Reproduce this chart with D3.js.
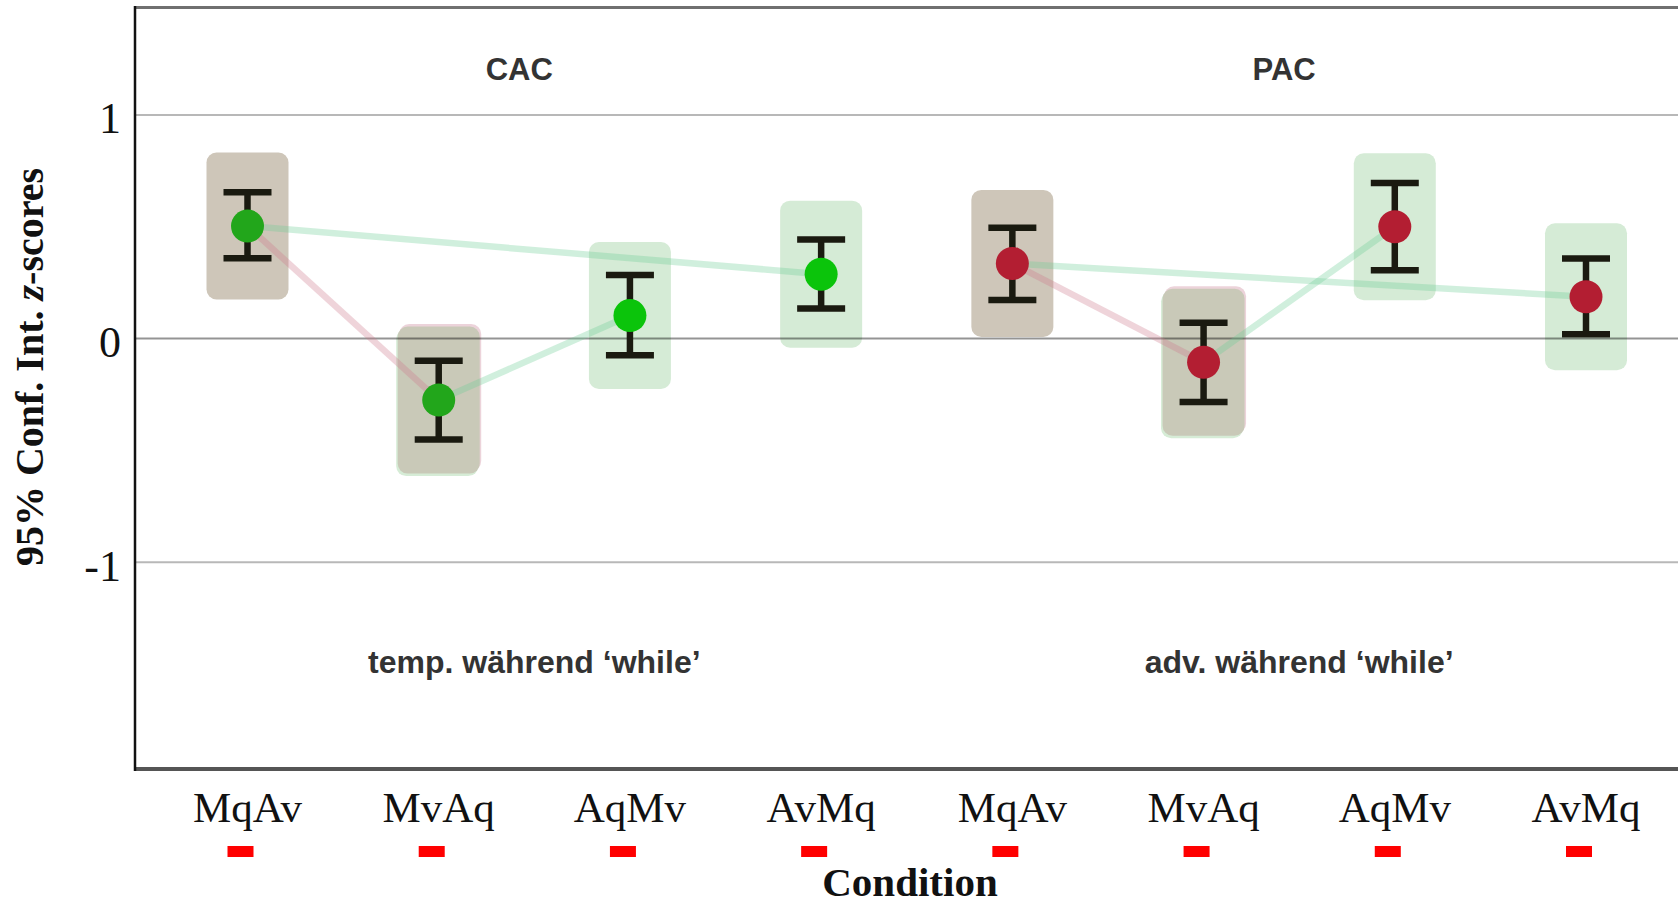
<!DOCTYPE html>
<html>
<head>
<meta charset="utf-8">
<script src="https://cdn.jsdelivr.net/npm/d3@7"></script>
<style>
  html, body { margin: 0; padding: 0; background: #fff; overflow: hidden; }
  svg { display: block; }
</style>
</head>
<body>
<svg id="chart" width="1678" height="906"></svg>
<script>
// Conditions along the x axis (two blocks of four)
const conditions = ["MqAv", "MvAq", "AqMv", "AvMq", "MqAv", "MvAq", "AqMv", "AvMq"];
const blocks = ["CAC", "CAC", "CAC", "CAC", "PAC", "PAC", "PAC", "PAC"];
const blockTitles = ["CAC", "PAC"];
const blockNotes = ["temp. während ‘while’", "adv. während ‘while’"];

// Mean z-scores and 95% confidence interval bounds
const means   = [0.503, -0.275, 0.103, 0.288, 0.336, -0.106, 0.500, 0.187];
const ciLower = [0.359, -0.451, -0.074, 0.135, 0.172, -0.283, 0.306, 0.019];
const ciUpper = [0.654, -0.099, 0.284, 0.443, 0.495, 0.071, 0.696, 0.358];

// Marker colours and the highlight box behind each marker
const pointColors = ["#22a61b", "#22a61b", "#0bc40b", "#0bc40b", "#b31e32", "#b31e32", "#b31e32", "#b31e32"];
const highlights  = ["tan", "mixed", "green", "green", "tan", "mixed", "green", "green"];

// Connecting strokes between conditions (indices into the arrays above)
const linkFrom  = [0, 1, 0, 4, 5, 4];
const linkTo    = [1, 2, 3, 5, 6, 7];
const linkKinds = ["pink", "green", "green", "pink", "green", "green"];

const yTicks = [-1, 0, 1];

// ---- layout ----
const W = 1678, H = 906;
const frame = { left: 135, right: 1710, top: 7.5, bottom: 769 };
const svg = d3.select("#chart");

const x = d3.scalePoint().domain(d3.range(conditions.length)).range([247.5, 1586]);
const y = d3.scaleLinear().domain([-1.924, 1.48]).range([frame.bottom, frame.top]);

const boxHalf = 0.3285;  // half height of highlight boxes, in z units
const boxW = 82;
const boxFill = { tan: "#cec6b9", green: "#d5ebd6", mixed: "#c9c9b8" };

// highlight boxes
const boxes = svg.append("g");
conditions.forEach((c, i) => {
  const bx = x(i) - boxW / 2;
  const by = y(means[i] + boxHalf);
  const bh = y(means[i] - boxHalf) - by;
  if (highlights[i] === "mixed") {
    boxes.append("rect").attr("x", bx - 1.5).attr("y", by + 2.5).attr("width", boxW).attr("height", bh)
      .attr("rx", 10).attr("fill", "#d6ecd6");
    boxes.append("rect").attr("x", bx + 1.5).attr("y", by - 2.5).attr("width", boxW).attr("height", bh)
      .attr("rx", 10).attr("fill", "#ecd3da");
  }
  boxes.append("rect").attr("x", bx).attr("y", by).attr("width", boxW).attr("height", bh)
    .attr("rx", 10).attr("fill", boxFill[highlights[i]]);
});

// gridlines
const grid = svg.append("g");
yTicks.forEach(t => {
  grid.append("line")
    .attr("x1", frame.left).attr("x2", W)
    .attr("y1", y(t)).attr("y2", y(t))
    .attr("stroke", "#000").attr("stroke-opacity", t === 0 ? 0.42 : 0.28)
    .attr("stroke-width", 2);
});

// frame: top border, left axis, bottom axis
svg.append("line").attr("x1", frame.left).attr("x2", W).attr("y1", frame.top).attr("y2", frame.top)
  .attr("stroke", "#707070").attr("stroke-width", 3);
svg.append("line").attr("x1", frame.left).attr("x2", W).attr("y1", frame.bottom).attr("y2", frame.bottom)
  .attr("stroke", "#555").attr("stroke-width", 4);
svg.append("line").attr("x1", frame.left).attr("x2", frame.left).attr("y1", frame.top - 1.5).attr("y2", frame.bottom + 2)
  .attr("stroke", "#111").attr("stroke-width", 2.5);

// connecting strokes
const linkColor = { pink: "rgba(205,120,140,0.32)", green: "rgba(110,205,150,0.32)" };
const links = svg.append("g");
linkFrom.forEach((f, k) => {
  const t = linkTo[k];
  links.append("line")
    .attr("x1", x(f)).attr("y1", y(means[f]))
    .attr("x2", x(t)).attr("y2", y(means[t]))
    .attr("stroke", linkColor[linkKinds[k]]).attr("stroke-width", 6.5);
});

// error bars
const bars = svg.append("g").attr("stroke", "#1a1a10").attr("stroke-width", 6.5);
conditions.forEach((c, i) => {
  const cx = x(i);
  bars.append("line").attr("x1", cx).attr("x2", cx).attr("y1", y(ciUpper[i])).attr("y2", y(ciLower[i]));
  bars.append("line").attr("x1", cx - 24).attr("x2", cx + 24).attr("y1", y(ciUpper[i])).attr("y2", y(ciUpper[i]));
  bars.append("line").attr("x1", cx - 24).attr("x2", cx + 24).attr("y1", y(ciLower[i])).attr("y2", y(ciLower[i]));
});

// mean markers
svg.append("g").selectAll("circle").data(means).join("circle")
  .attr("cx", (d, i) => x(i)).attr("cy", d => y(d))
  .attr("r", 16.5).attr("fill", (d, i) => pointColors[i]);

// y tick labels
const serif = "'Liberation Serif', 'Times New Roman', serif";
const sans = "'Liberation Sans', Arial, Helvetica, sans-serif";
svg.append("g").selectAll("text").data(yTicks).join("text")
  .attr("x", 121).attr("y", d => y(d) + 4)
  .attr("text-anchor", "end").attr("dominant-baseline", "central")
  .attr("font-family", serif).attr("font-size", 44).attr("fill", "#111")
  .text(d => d3.format("d")(d).replace("−", "-"));

// y axis title
const yTitle = svg.append("text")
  .attr("transform", "translate(43,367) rotate(-90)")
  .attr("text-anchor", "middle")
  .attr("font-family", serif).attr("font-size", 40).attr("font-weight", "bold").attr("fill", "#111");
yTitle.append("tspan").text("95% Conf. Int. ");
yTitle.append("tspan").attr("font-style", "italic").text("z");
yTitle.append("tspan").text("-scores");

// x tick labels
svg.append("g").selectAll("text").data(conditions).join("text")
  .attr("x", (d, i) => x(i)).attr("y", 822)
  .attr("text-anchor", "middle")
  .attr("font-family", serif).attr("font-size", 43).attr("fill", "#111")
  .text(d => d);

// red dashes under the tick labels
svg.append("g").selectAll("rect").data(conditions).join("rect")
  .attr("x", (d, i) => x(i) - 7 - 13).attr("y", 846)
  .attr("width", 26).attr("height", 11).attr("fill", "#ff0000");

// x axis title
svg.append("text").attr("x", 910).attr("y", 896)
  .attr("text-anchor", "middle")
  .attr("font-family", serif).attr("font-size", 41).attr("font-weight", "bold").attr("fill", "#111")
  .text("Condition");

// block titles and notes
blockTitles.forEach((b, k) => {
  const idx = blocks.map((v, i) => v === b ? i : -1).filter(i => i >= 0);
  const mid = (x(idx[0]) + x(idx[idx.length - 1])) / 2;
  svg.append("text").attr("x", mid - 15).attr("y", 80)
    .attr("text-anchor", "middle").attr("font-family", sans).attr("font-size", 31)
    .attr("font-weight", "bold").attr("fill", "#333").text(b);
  svg.append("text").attr("x", mid).attr("y", 673)
    .attr("text-anchor", "middle").attr("font-family", sans).attr("font-size", 32)
    .attr("font-weight", "bold").attr("fill", "#333").text(blockNotes[k]);
});
</script>
</body>
</html>
